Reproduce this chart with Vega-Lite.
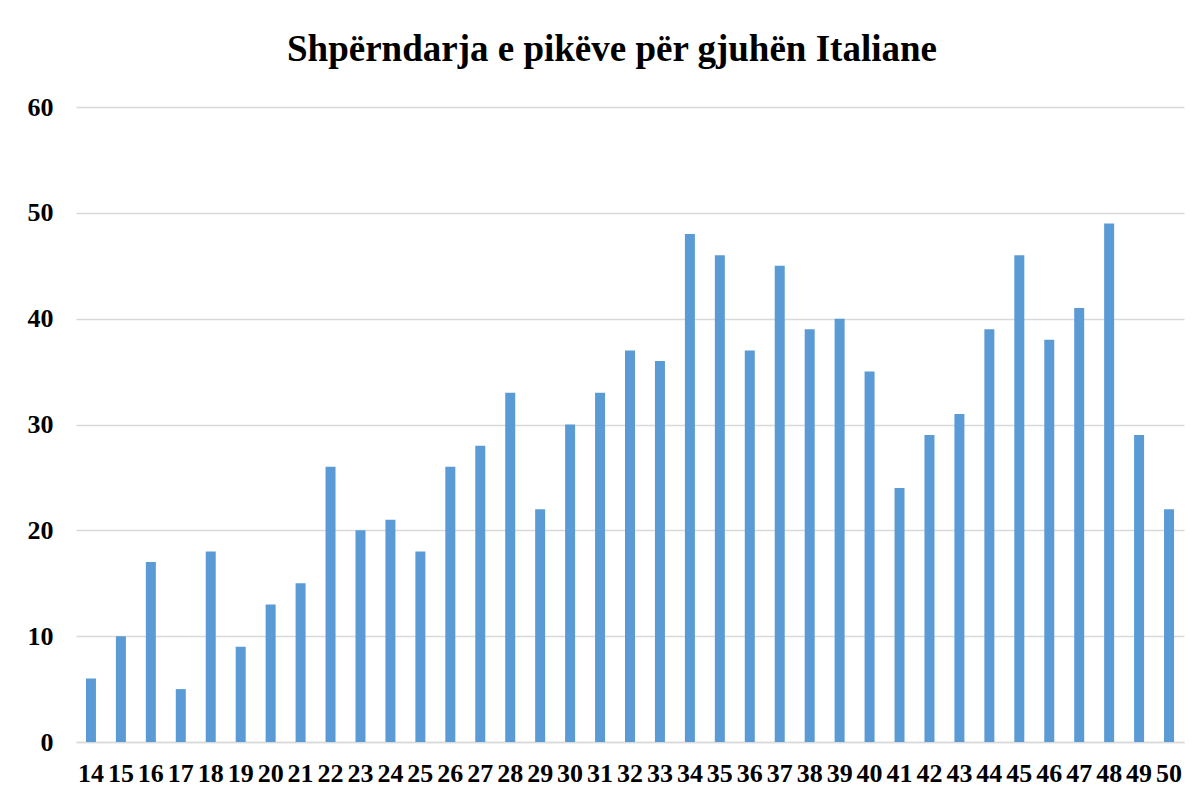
{
  "$schema": "https://vega.github.io/schema/vega-lite/v6.json",
  "autosize": {"type": "none"},
  "width": 1108,
  "height": 635,
  "padding": {"left": 76, "top": 107, "right": 18, "bottom": 57},
  "background": "white",
  "title": {
    "text": "Shpërndarja e pikëve për gjuhën Italiane",
    "font": "Liberation Serif",
    "fontSize": 37,
    "fontWeight": "bold",
    "color": "#000000",
    "anchor": "middle",
    "baseline": "alphabetic",
    "offset": -4,
    "dx": -18
  },
  "config": {
    "view": {"stroke": null},
    "axis": {
      "labelFont": "Liberation Serif",
      "labelFontWeight": "bold",
      "labelColor": "#000000",
      "labelFontSize": 26,
      "ticks": false,
      "title": null
    }
  },
  "data": {
    "values": [
      {"score": "14", "count": 6}, {"score": "15", "count": 10}, {"score": "16", "count": 17},
      {"score": "17", "count": 5}, {"score": "18", "count": 18}, {"score": "19", "count": 9},
      {"score": "20", "count": 13}, {"score": "21", "count": 15}, {"score": "22", "count": 26},
      {"score": "23", "count": 20}, {"score": "24", "count": 21}, {"score": "25", "count": 18},
      {"score": "26", "count": 26}, {"score": "27", "count": 28}, {"score": "28", "count": 33},
      {"score": "29", "count": 22}, {"score": "30", "count": 30}, {"score": "31", "count": 33},
      {"score": "32", "count": 37}, {"score": "33", "count": 36}, {"score": "34", "count": 48},
      {"score": "35", "count": 46}, {"score": "36", "count": 37}, {"score": "37", "count": 45},
      {"score": "38", "count": 39}, {"score": "39", "count": 40}, {"score": "40", "count": 35},
      {"score": "41", "count": 24}, {"score": "42", "count": 29}, {"score": "43", "count": 31},
      {"score": "44", "count": 39}, {"score": "45", "count": 46}, {"score": "46", "count": 38},
      {"score": "47", "count": 41}, {"score": "48", "count": 49}, {"score": "49", "count": 29},
      {"score": "50", "count": 22}
    ]
  },
  "mark": {"type": "bar", "color": "#5B9BD5", "width": 10},
  "encoding": {
    "x": {
      "field": "score",
      "type": "ordinal",
      "sort": null,
      "scale": {"paddingInner": 0.667, "paddingOuter": 0.333},
      "axis": {
        "labelAngle": 0,
        "labelPadding": 18,
        "domain": true,
        "domainColor": "#d9d9d9",
        "domainWidth": 1.5,
        "grid": false
      }
    },
    "y": {
      "field": "count",
      "type": "quantitative",
      "scale": {"domain": [0, 60], "nice": false},
      "axis": {
        "values": [0, 10, 20, 30, 40, 50, 60],
        "domain": false,
        "grid": true,
        "gridColor": "#d9d9d9",
        "gridWidth": 1.5,
        "labelPadding": 23
      }
    }
  }
}
